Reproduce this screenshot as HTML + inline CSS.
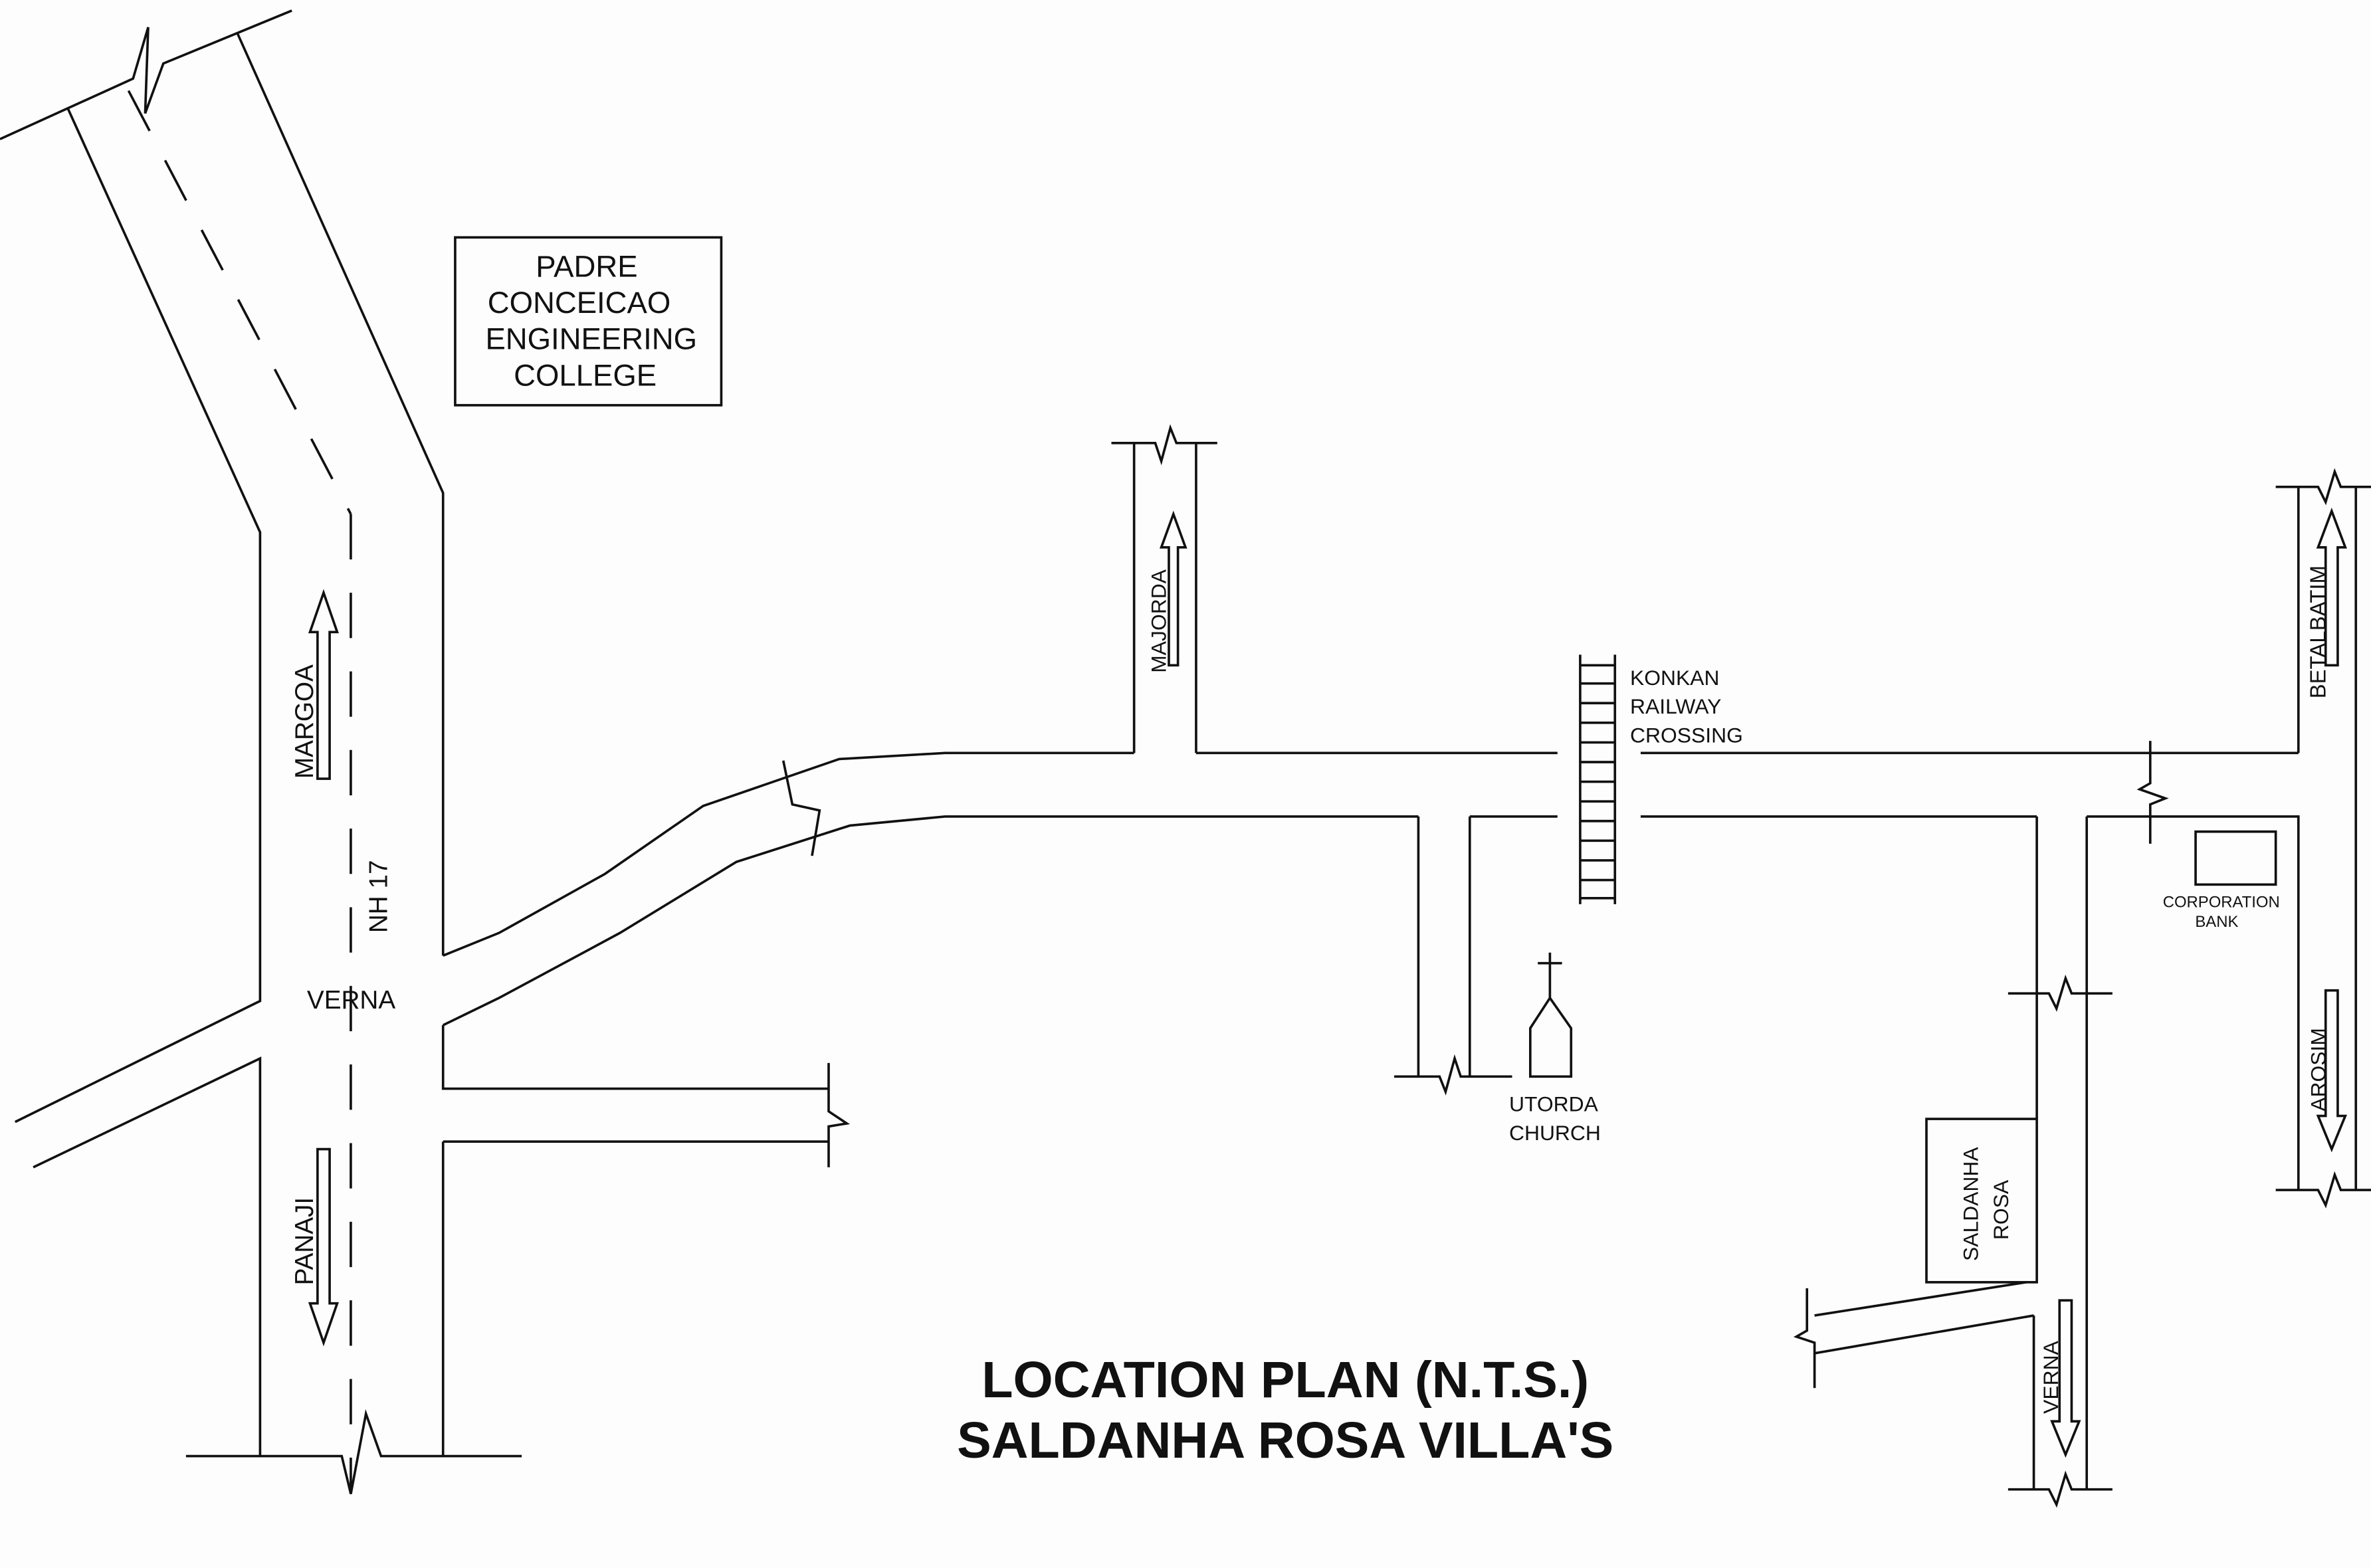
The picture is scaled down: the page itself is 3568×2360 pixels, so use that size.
<!DOCTYPE html>
<html><head><meta charset="utf-8">
<style>
html,body{margin:0;padding:0;background:#fff;}
svg{display:block;}
text{font-family:"Liberation Sans",Arial,sans-serif;fill:#111;}
</style></head>
<body>
<svg width="3568" height="2360" viewBox="0 0 1568 1037" preserveAspectRatio="none" xmlns="http://www.w3.org/2000/svg">
<rect width="1568" height="1037" fill="#fdfdfd"/>
<g fill="none" stroke="#111" stroke-width="1.6">
<polyline points="0,92 88,52 98,18 96,75 108,42 193,7"/>
<polyline points="45,72 172,352 172,662 10,742"/>
<polyline points="157,22 293,326 293,632"/>
<polyline points="22,772 172,700 172,963"/>
<line x1="293" y1="755" x2="293" y2="963"/>
<polyline points="123,963 226,963 232,988 242,935 252,963 345,963"/>
<polyline points="85,60 232,340" stroke-dasharray="30,22"/>
<line x1="232" y1="340" x2="232" y2="985" stroke-dasharray="30,22"/>
<polyline points="293,632 330,617 400,578 465,533 555,502 625,498 750,498"/>
<polyline points="293,678 330,660 410,617 487,570 562,546 625,540 938,540"/>
<polyline points="518,503 524,532 542,536 537,566"/>
<polyline points="293,678 293,720 548,720"/>
<line x1="293" y1="755" x2="548" y2="755"/>
<polyline points="548,703 548,735 560,743 548,745 548,772"/>
<line x1="750" y1="498" x2="750" y2="293"/>
<line x1="791" y1="293" x2="791" y2="498"/>
<polyline points="735,293 764,293 768,305 774,283 778,293 805,293"/>
<line x1="791" y1="498" x2="1030" y2="498"/>
<line x1="1085" y1="498" x2="1520" y2="498"/>
<line x1="972" y1="540" x2="1030" y2="540"/>
<line x1="1085" y1="540" x2="1347" y2="540"/>
<line x1="1045" y1="433" x2="1045" y2="598"/>
<line x1="1068" y1="433" x2="1068" y2="598"/>
<path d="M1045,440H1068M1045,452H1068M1045,465H1068M1045,478H1068M1045,491H1068M1045,504H1068M1045,517H1068M1045,530H1068M1045,543H1068M1045,556H1068M1045,569H1068M1045,582H1068M1045,594H1068"/>
<line x1="938" y1="540" x2="938" y2="712"/>
<line x1="972" y1="540" x2="972" y2="712"/>
<polyline points="922,712 952,712 956,722 962,700 966,712 1000,712"/>
<line x1="1025" y1="630" x2="1025" y2="660"/>
<line x1="1017" y1="637" x2="1033" y2="637"/>
<polygon points="1012,680 1025,660 1039,680 1039,712 1012,712"/>
<line x1="1347" y1="540" x2="1347" y2="740"/>
<rect x="1274" y="740" width="73" height="108"/>
<polyline points="1340,848 1200,870"/>
<polyline points="1345,870 1200,895"/>
<polyline points="1195,852 1195,880 1188,884 1200,888 1200,918"/>
<line x1="1345" y1="870" x2="1345" y2="985"/>
<polyline points="1380,540 1380,985"/>
<polyline points="1380,540 1520,540 1520,787"/>
<polyline points="1328,657 1355,657 1360,667 1366,647 1370,657 1397,657"/>
<polyline points="1328,985 1355,985 1360,995 1366,975 1370,985 1397,985"/>
<polyline points="1422,490 1422,518 1415,522 1432,528 1422,532 1422,558"/>
<line x1="1520" y1="498" x2="1520" y2="322"/>
<line x1="1558" y1="322" x2="1558" y2="787"/>
<polyline points="1505,322 1533,322 1538,332 1544,312 1548,322 1568,322"/>
<polyline points="1505,787 1533,787 1538,797 1544,777 1548,787 1568,787"/>
<rect x="301" y="157" width="176" height="111"/>
<rect x="1452" y="550" width="53" height="35"/>
<polygon points="210,515 210,418 205,418 214,392 223,418 218,418 218,515"/>
<polygon points="210,760 210,862 205,862 214,888 223,862 218,862 218,760"/>
<polygon points="773,440 773,362 768,362 776,340 784,362 779,362 779,440"/>
<polygon points="1538,440 1538,362 1533,362 1542,338 1551,362 1546,362 1546,440"/>
<polygon points="1538,655 1538,738 1533,738 1542,760 1551,738 1546,738 1546,655"/>
<polygon points="1362,860 1362,940 1357,940 1366,962 1375,940 1370,940 1370,860"/>
</g>
<g font-size="20" text-anchor="middle">
<text x="388" y="183">PADRE</text>
<text x="383" y="207">CONCEICAO</text>
<text x="391" y="231">ENGINEERING</text>
<text x="387" y="255">COLLEGE</text>
</g>
<g font-size="17">
<text x="203" y="667">VERNA</text>
<text transform="translate(207,515) rotate(-90)">MARGOA</text>
<text transform="translate(256,617) rotate(-90)">NH 17</text>
<text transform="translate(207,850) rotate(-90)">PANAJI</text>
</g>
<g font-size="14">
<text transform="translate(771,445) rotate(-90)">MAJORDA</text>
<text x="1078" y="453">KONKAN</text>
<text x="1078" y="472">RAILWAY</text>
<text x="1078" y="491">CROSSING</text>
<text x="998" y="735">UTORDA</text>
<text x="998" y="754">CHURCH</text>
<text transform="translate(1538,462) rotate(-90)" font-size="14.5">BETALBATIM</text>
<text transform="translate(1538,735) rotate(-90)">AROSIM</text>
<text transform="translate(1308,834) rotate(-90)">SALDANHA</text>
<text transform="translate(1328,820) rotate(-90)">ROSA</text>
<text transform="translate(1361,935) rotate(-90)">VERNA</text>
</g>
<text x="1469" y="600" font-size="10.5" text-anchor="middle">CORPORATION</text>
<text x="1466" y="613" font-size="10.5" text-anchor="middle">BANK</text>
<text x="850" y="924" font-size="34" font-weight="bold" text-anchor="middle">LOCATION PLAN (N.T.S.)</text>
<text x="850" y="964" font-size="34" font-weight="bold" text-anchor="middle">SALDANHA ROSA VILLA'S</text>
</svg>
</body></html>
